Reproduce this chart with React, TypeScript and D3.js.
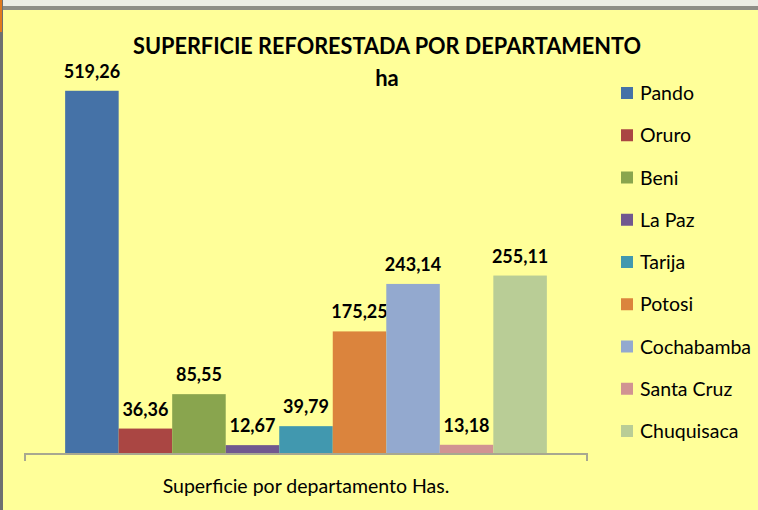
import React from "react";
import * as d3 from "d3";

const categories = ["Pando", "Oruro", "Beni", "La Paz", "Tarija", "Potosi", "Cochabamba", "Santa Cruz", "Chuquisaca"];
const values = [519.26, 36.36, 85.55, 12.67, 39.79, 175.25, 243.14, 13.18, 255.11];
const colors = ["#4572A7", "#AA4643", "#89A54E", "#71588F", "#4198AF", "#DB843D", "#93A9CF", "#D19392", "#B9CD96"];
const title = "SUPERFICIE REFORESTADA POR DEPARTAMENTO";
const subtitle = "ha";
const axisLabel = "Superficie por departamento Has.";

const W = 758;
const H = 510;
const font = "Lato, 'Open Sans', sans-serif";

export default function App() {
  const plotLeft = 25;
  const plotRight = 587;
  const baseY = 454;
  const yMax = 600;
  const y = d3.scaleLinear().domain([0, yMax]).range([baseY, baseY - yMax * 0.6995]);
  const gap = 1.5;
  const groupW = plotRight - plotLeft;
  const barW = groupW / (categories.length + gap);
  const x = d3
    .scaleBand<string>()
    .domain(categories)
    .range([plotLeft + (barW * gap) / 2, plotRight - (barW * gap) / 2])
    .padding(0);
  const fmt = (v: number) => v.toFixed(2).replace(".", ",");
  const legendY = d3.scalePoint<string>().domain(categories).range([93, 431]);

  return (
    <svg
      width={W}
      height={H}
      style={{ position: "fixed", left: 0, top: 0, display: "block" }}
      fontFamily={font}
    >
      <rect x={0} y={0} width={W} height={H} fill="#FFFF99" />
      <rect x={0} y={0} width={W} height={6} fill="#ECEDE4" />
      <rect x={0} y={6} width={W} height={4} fill="#8E8E86" />
      <rect x={0} y={0} width={3} height={H} fill="#6E7070" />
      <rect x={0} y={0} width={2} height={32} fill="#E07B1E" />

      <text x={387} y={54} textAnchor="middle" fontSize={22} fontWeight="bold" fill="#000" textLength={508} lengthAdjust="spacingAndGlyphs">
        {title}
      </text>
      <text x={387} y={86} textAnchor="middle" fontSize={22} fontWeight="bold" fill="#000">
        {subtitle}
      </text>

      {categories.map((c, i) => (
        <g key={c}>
          <rect x={x(c)!} y={y(values[i])} width={x.bandwidth()} height={baseY - y(values[i])} fill={colors[i]} />
          <text
            x={x(c)! + x.bandwidth() / 2}
            y={y(values[i]) - 13}
            textAnchor="middle"
            fontSize={18}
            fontWeight="bold"
            fill="#000"
          >
            {fmt(values[i])}
          </text>
        </g>
      ))}

      <path
        d={`M${plotLeft},${baseY + 7}V${baseY}H${plotRight}V${baseY + 7}`}
        fill="none"
        stroke="#A8A890"
        strokeWidth={2}
      />
      <text x={306} y={493} textAnchor="middle" fontSize={19.5} fill="#000">
        {axisLabel}
      </text>

      {categories.map((c, i) => (
        <g key={"lg" + c}>
          <rect x={621} y={legendY(c)! - 6} width={12} height={12} fill={colors[i]} />
          <text x={640} y={legendY(c)! + 7} fontSize={19.5} fill="#000">
            {c}
          </text>
        </g>
      ))}
    </svg>
  );
}
